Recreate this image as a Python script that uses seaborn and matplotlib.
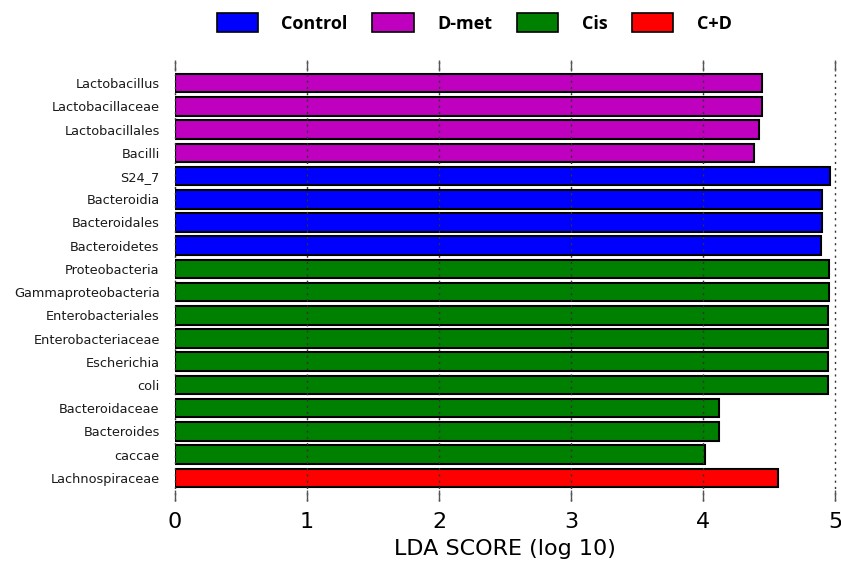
import matplotlib
matplotlib.use("Agg")
import matplotlib.pyplot as plt
from matplotlib.patches import Patch
import seaborn as sns
import pandas as pd

# LEfSe discriminant features, top to bottom
features = [
    "Lactobacillus", "Lactobacillaceae", "Lactobacillales", "Bacilli",
    "S24_7", "Bacteroidia", "Bacteroidales", "Bacteroidetes",
    "Proteobacteria", "Gammaproteobacteria", "Enterobacteriales",
    "Enterobacteriaceae", "Escherichia", "coli", "Bacteroidaceae",
    "Bacteroides", "caccae", "Lachnospiraceae",
]
lda_scores = [
    4.445, 4.445, 4.427, 4.386,
    4.962, 4.902, 4.902, 4.896,
    4.957, 4.955, 4.950,
    4.950, 4.944, 4.944, 4.119,
    4.119, 4.015, 4.568,
]
groups = [
    "D-met", "D-met", "D-met", "D-met",
    "Control", "Control", "Control", "Control",
    "Cis", "Cis", "Cis",
    "Cis", "Cis", "Cis", "Cis",
    "Cis", "Cis", "C+D",
]
group_order = ["Control", "D-met", "Cis", "C+D"]
group_colors = {"Control": "#0000FF", "D-met": "#BF00BF", "Cis": "#008000", "C+D": "#FF0000"}
x_ticks = [0, 1, 2, 3, 4, 5]

df = pd.DataFrame({"feature": features, "lda": lda_scores, "group": groups})

sns.set_style("white")
plt.rcParams["font.family"] = ["DejaVu Sans"]
plt.rcParams["text.color"] = "black"
plt.rcParams["axes.labelcolor"] = "black"
plt.rcParams["xtick.labelcolor"] = "black"
plt.rcParams["ytick.labelcolor"] = "#1a1a1a"

fig = plt.figure(figsize=(8.41, 5.65), dpi=100)
ax = fig.add_axes([175 / 841, 1 - 501 / 565, 660 / 841, 441 / 565])

sns.barplot(
    data=df, x="lda", y="feature", hue="group", order=features,
    palette=group_colors, saturation=1, dodge=False, orient="h", width=0.8,
    edgecolor="black", linewidth=1.5, legend=False, ax=ax,
)

ax.set_xlim(0, 5)
ax.set_ylim(len(features), -1)
ax.set_xticks(x_ticks)
ax.set_xticklabels([str(t) for t in x_ticks], fontsize=16)
ax.set_xlabel("LDA SCORE (log 10)", fontsize=16, labelpad=5)
ax.set_ylabel("")
ax.tick_params(axis="y", length=0, labelsize=9.3, pad=11)
ax.tick_params(axis="x", direction="in", length=8, width=1, color="#555555",
               top=True, bottom=True, pad=8)
for side in ax.spines.values():
    side.set_visible(False)
ax.grid(axis="x", linestyle=(0, (1.5, 3)), color="#333333", linewidth=1)
ax.grid(axis="y", visible=False)
for gl in ax.get_xgridlines():
    gl.set_clip_on(False)
ax.set_axisbelow(False)

handles = [Patch(facecolor=group_colors[g], edgecolor="black", linewidth=1.2) for g in group_order]
leg = fig.legend(
    handles, group_order, loc="center", bbox_to_anchor=(474 / 841, 1 - 23 / 565),
    ncol=4, frameon=False, handlelength=2.3, handleheight=1.25,
    handletextpad=1.3, columnspacing=1.35,
    prop={"weight": "bold", "size": 13, "family": "Open Sans"},
)

fig.savefig("out.png", dpi=100)
